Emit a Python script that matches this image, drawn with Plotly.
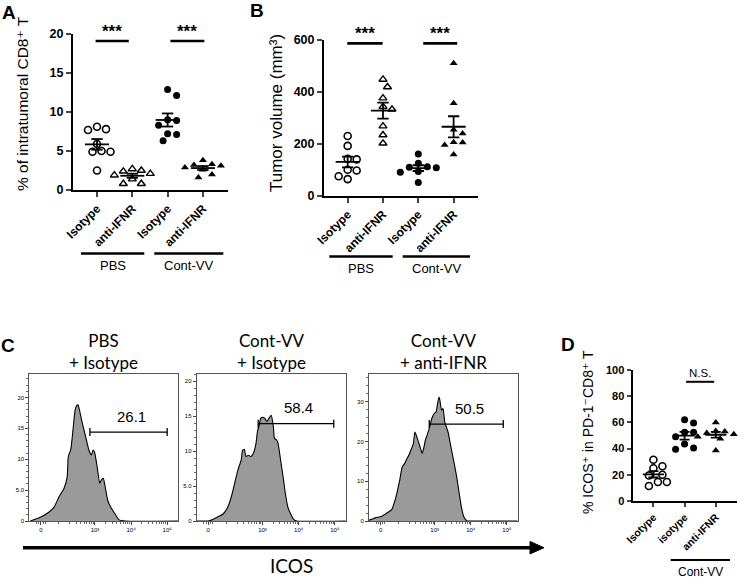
import math
import plotly.graph_objects as go

W, H = 744, 582

# ---------------- data ----------------
# Panel A: % of intratumoral CD8+ T
a_cats = ["Isotype", "anti-IFNR", "Isotype", "anti-IFNR"]
a_pbs_iso = [7.7, 7.8, 8.1, 5.9, 4.9, 5.0, 4.9, 2.5]
a_pbs_ifnr = [2.7, 2.5, 2.4, 2.1, 1.9, 1.4, 0.8, 0.8]
a_vv_iso = [12.9, 12.1, 9.0, 8.3, 8.9, 7.2, 7.1, 6.3]
a_vv_ifnr = [3.8, 3.3, 3.2, 3.1, 2.9, 2.6, 2.0, 1.6]
a_yticks = [0, 5, 10, 15, 20]

# Panel B: tumor volume (mm3)
b_cats = ["Isotype", "anti-IFNR", "Isotype", "anti-IFNR"]
b_pbs_iso = [230, 192, 142, 140, 100, 97, 75, 64]
b_pbs_ifnr = [448, 419, 376, 343, 333, 268, 234, 202]
b_vv_iso = [161, 125, 112, 110, 108, 93, 90, 51]
b_vv_ifnr = [510, 356, 254, 240, 206, 205, 195, 159]
b_yticks = [0, 200, 400, 600]

# Panel D: % ICOS+ in PD-1- CD8+ T
d_cats = ["Isotype", "isotype", "anti-IFNR"]
d_pbs_iso = [31.5, 26.5, 25, 20, 19.5, 14.5, 14.5, 11.5]
d_vv_iso = [62, 59.5, 52.5, 52.5, 49, 43.5, 40.5, 39.5]
d_vv_ifnr = [60, 53.5, 53, 52, 51, 49, 47.5, 38.5]
d_yticks = [0, 20, 40, 60, 80, 100]

# Panel C: ICOS histograms (x in display decades: 0 -> 0, 10^3 -> 1.5, 10^4 -> 2.5, 10^5 -> 3.5)
c_tickvals = [0, 1.5, 2.5, 3.5]
c_ticktext = ["0", "10³", "10⁴", "10⁵"]
c1_x = [-0.29, 0.0, 0.23, 0.37, 0.5, 0.64, 0.73, 0.76, 0.83, 0.9, 0.95, 0.99, 1.03, 1.08, 1.15,
        1.24, 1.33, 1.40, 1.45, 1.49, 1.56, 1.63, 1.67, 1.73, 1.79, 1.85, 1.93, 2.02, 2.16, 2.34, 3.8]
c1_y = [0, 0.65, 1.46, 2.28, 3.9, 5.27, 7.15, 10.4, 11.6, 15.3, 18.0, 18.65, 18.8, 17.7, 15.8,
        13.7, 11.5, 10.7, 11.5, 11.1, 8.8, 6.1, 6.6, 6.9, 5.3, 3.4, 2.3, 1.46, 0.23, 0, 0]
c2_x = [-0.36, 0.0, 0.14, 0.27, 0.41, 0.54, 0.64, 0.73, 0.82, 0.91, 0.95, 1.0, 1.04, 1.11, 1.18,
        1.25, 1.32, 1.36, 1.41, 1.45, 1.5, 1.56, 1.62, 1.68, 1.74, 1.80, 1.83, 1.89, 1.93, 2.0,
        2.07, 2.13, 2.2, 2.27, 2.36, 2.45, 3.8]
c2_y = [0, 0, 0.24, 0.6, 1.0, 2.0, 3.5, 5.4, 7.3, 8.7, 10.1, 10.2, 9.2, 9.4, 9.2,
        9.7, 11.1, 12.8, 13.7, 14.7, 14.8, 14.7, 14.2, 14.7, 15.1, 13.5, 11.8, 11.6, 11.1, 8.7,
        6.3, 4.0, 2.0, 1.1, 0.24, 0, 0]
c3_x = [-0.34, -0.22, -0.13, -0.05, 0.04, 0.13, 0.22, 0.31, 0.4, 0.44, 0.49, 0.53, 0.6, 0.67,
        0.71, 0.78, 0.84, 0.91, 0.95, 0.99, 1.05, 1.11, 1.15, 1.2, 1.24, 1.29, 1.35, 1.42, 1.49,
        1.54, 1.58, 1.62, 1.64, 1.69, 1.73, 1.78, 1.87, 1.95, 2.04, 2.11, 2.18, 2.24, 2.31, 2.4,
        2.58, 3.8]
c3_y = [0.18, 0.5, 0.85, 1.0, 1.2, 1.7, 2.27, 2.86, 5.2, 6.5, 8.6, 10.25, 13.6, 14.5,
        15.3, 16.5, 17.8, 19.5, 22.4, 21.6, 19.9, 18.2, 17.0, 18.5, 20.3, 21.6, 23.3, 25.8, 27.1,
        27.5, 29.6, 31.2, 30.6, 27.9, 28.3, 24.9, 22.4, 18.6, 14.5, 11.1, 6.9, 3.5, 1.0, 0,
        0, 0]
c_titles = ["PBS<br>+ Isotype", "Cont-VV<br>+ Isotype", "Cont-VV<br>+ anti-IFNR"]
c_gate_pct = ["26.1", "58.4", "50.5"]
c_gate_start = [1.36, 1.38, 1.35]
c_gate_end = [3.5, 3.47, 3.4]
c_gate_level = [14.4, 13.9, 24.4]
c_ymax = [23.8, 21.0, 37.0]
c_yticks = [[0, 5, 10, 15, 20], [0, 5, 10, 15, 20], [0, 10, 20, 30]]
c_yticktext = [["0", "5.0", "10", "15", "20"], ["0", "5.0", "10", "15", "20"], ["0", "10", "20", "30"]]

# ---------------- layout geometry (pixels) ----------------
FONT = "Arial, Liberation Sans, DejaVu Sans, sans-serif"
CFONT = "Lato, Open Sans, sans-serif"

panels = {
    # name: (axis suffix, x0, x1, y_top, y_bottom, xrange, yrange)
    "A": ("", 73, 228, 34, 190, [-0.68, 3.71], [0, 20]),
    "B": ("2", 324, 478, 40, 195.7, [-0.67, 3.69], [0, 600]),
    "D": ("3", 632.5, 737, 370, 501, [-0.67, 2.68], [0, 100]),
    "C1": ("4", 29.3, 178, 374, 521, [-0.32, 3.8], [0, c_ymax[0]]),
    "C2": ("5", 196.7, 345.7, 374, 521, [-0.32, 3.8], [0, c_ymax[1]]),
    "C3": ("6", 369, 517.7, 374, 521, [-0.32, 3.8], [0, c_ymax[2]]),
}


def to_px(p, xv, yv):
    s, x0, x1, yt, yb, xr, yr = panels[p]
    px = x0 + (xv - xr[0]) / (xr[1] - xr[0]) * (x1 - x0)
    py = yb - (yv - yr[0]) / (yr[1] - yr[0]) * (yb - yt)
    return px, py


def paper(px, py):
    return px / W, 1 - py / H


def scales(p):
    s, x0, x1, yt, yb, xr, yr = panels[p]
    return (x1 - x0) / (xr[1] - xr[0]), (yb - yt) / (yr[1] - yr[0])


def swarm(vals, ppu, ppc, d=9.0):
    placed = []
    offs = [0.0] * len(vals)
    cands = [0.0]
    for k in range(1, 10):
        cands += [k * d / 2, -k * d / 2]
    order = sorted(range(len(vals)), key=lambda i: -vals[i])
    for i in order:
        y = vals[i] * ppu
        for c in cands:
            if all((c - a) ** 2 + (y - b) ** 2 >= (d * 0.9) ** 2 for a, b in placed):
                offs[i] = c
                placed.append((c, y))
                break
    return [o / ppc for o in offs]


fig = go.Figure()

OPEN_C = dict(symbol="circle-open", size=7, color="black", line=dict(width=1.6, color="black"))
FILL_C = dict(symbol="circle", size=7, color="black")
OPEN_T = dict(symbol="triangle-up-open", size=7, color="black", line=dict(width=1.4, color="black"))
FILL_T = dict(symbol="triangle-up", size=7, color="black")


def add_group(p, idx, vals, marker):
    s = panels[p][0]
    ppc, ppu = scales(p)
    offs = swarm(vals, ppu, ppc)
    fig.add_trace(go.Scatter(x=[idx + o for o in offs], y=vals, mode="markers", marker=marker,
                             xaxis="x" + s, yaxis="y" + s, showlegend=False, cliponaxis=False,
                             hoverinfo="skip"))
    n = len(vals)
    m = sum(vals) / n
    sd = math.sqrt(sum((v - m) ** 2 for v in vals) / (n - 1))
    se = sd / math.sqrt(n)
    hw, cw = 0.34, 0.16
    xs = [idx - hw, idx + hw, None, idx - cw, idx + cw, None, idx - cw, idx + cw, None, idx, idx]
    ys = [m, m, None, m + se, m + se, None, m - se, m - se, None, m - se, m + se]
    fig.add_trace(go.Scatter(x=xs, y=ys, mode="lines", line=dict(color="black", width=1.8),
                             xaxis="x" + s, yaxis="y" + s, showlegend=False, cliponaxis=False,
                             hoverinfo="skip"))


for i, (v, mk) in enumerate([(a_pbs_iso, OPEN_C), (a_pbs_ifnr, OPEN_T), (a_vv_iso, FILL_C), (a_vv_ifnr, FILL_T)]):
    add_group("A", i, v, mk)
for i, (v, mk) in enumerate([(b_pbs_iso, OPEN_C), (b_pbs_ifnr, OPEN_T), (b_vv_iso, FILL_C), (b_vv_ifnr, FILL_T)]):
    add_group("B", i, v, mk)
for i, (v, mk) in enumerate([(d_pbs_iso, OPEN_C), (d_vv_iso, FILL_C), (d_vv_ifnr, FILL_T)]):
    add_group("D", i, v, mk)

# histograms
hist_x = [c1_x, c2_x, c3_x]
hist_y = [c1_y, c2_y, c3_y]
for k, p in enumerate(["C1", "C2", "C3"]):
    s = panels[p][0]
    fig.add_trace(go.Scatter(x=hist_x[k], y=hist_y[k], mode="lines", fill="tozeroy",
                             fillcolor="#9a9a9a", line=dict(color="black", width=1.1, shape="spline", smoothing=0.5),
                             xaxis="x" + s, yaxis="y" + s, showlegend=False, hoverinfo="skip"))

layout = dict(width=W, height=H, margin=dict(l=0, r=0, t=0, b=0, pad=0, autoexpand=False), autosize=False,
              plot_bgcolor="white", paper_bgcolor="white", showlegend=False,
              font=dict(family=FONT, color="black"))

shapes = []
annotations = []

# scatter panel axes
for p, cats, ticks in [("A", a_cats, a_yticks), ("B", b_cats, b_yticks), ("D", d_cats, d_yticks)]:
    s, x0, x1, yt, yb, xr, yr = panels[p]
    small = p == "D"
    layout["xaxis" + s] = dict(domain=[x0 / W, x1 / W], range=xr, anchor="y" + s, automargin=False,
                               tickvals=list(range(len(cats))), ticktext=cats, tickangle=-45,
                               ticks="outside", ticklen=5 if not small else 4, tickwidth=2, showline=True,
                               linewidth=2, linecolor="black", showgrid=False, zeroline=False,
                               tickfont=dict(size=12 if not small else 10.5, weight="bold", family=FONT))
    layout["yaxis" + s] = dict(domain=[1 - yb / H, 1 - yt / H], range=yr, anchor="x" + s, automargin=False,
                               tickvals=ticks, ticks="outside", ticklen=5 if not small else 4, tickwidth=2,
                               showline=True, linewidth=2, linecolor="black", showgrid=False,
                               zeroline=False, tickfont=dict(size=12.5 if not small else 11, weight="bold", family=FONT))

# histogram axes
minor_x = [-0.12, -0.06, 0.0, 0.06, 0.12]
for e in (2, 3, 4):
    for kk in range(1, 10):
        minor_x.append(math.log10(kk * 10 ** e) - 1.5)
for k, p in enumerate(["C1", "C2", "C3"]):
    s, x0, x1, yt, yb, xr, yr = panels[p]
    layout["xaxis" + s] = dict(domain=[x0 / W, x1 / W], range=xr, anchor="y" + s, automargin=False,
                               tickvals=c_tickvals, ticktext=c_ticktext, ticks="outside", ticklen=3,
                               tickwidth=1, showline=True, mirror=True, linewidth=1, linecolor="#555",
                               showgrid=False, zeroline=False, tickfont=dict(size=6, family=FONT),
                               minor=dict(tickvals=minor_x, ticks="outside", ticklen=2, tickwidth=0.8,
                                          tickcolor="#444", showgrid=False))
    layout["yaxis" + s] = dict(domain=[1 - yb / H, 1 - yt / H], range=yr, anchor="x" + s, automargin=False,
                               tickvals=c_yticks[k], ticktext=c_yticktext[k], ticks="outside", ticklen=3,
                               tickwidth=1, showline=True, mirror=True, linewidth=1, linecolor="#555",
                               showgrid=False, zeroline=False, tickfont=dict(size=6, family=FONT),
                               minor=dict(dtick=1 if k < 2 else 2, ticks="outside", ticklen=2, tickwidth=0.8,
                                          tickcolor="#444", showgrid=False))
    # gate bracket
    gx0, gy = to_px(p, c_gate_start[k], c_gate_level[k])
    gx1, _ = to_px(p, c_gate_end[k], c_gate_level[k])
    for (ax0, ay0, ax1, ay1) in [(gx0, gy, gx1, gy), (gx0, gy - 4, gx0, gy + 4), (gx1, gy - 4, gx1, gy + 4)]:
        shapes.append(dict(type="line", xref="paper", yref="paper", x0=ax0 / W, x1=ax1 / W,
                           y0=1 - ay0 / H, y1=1 - ay1 / H, line=dict(color="black", width=1.3)))
    lx, ly = paper((gx0 + gx1) / 2 + 3, gy - 16)
    annotations.append(dict(text=c_gate_pct[k], x=lx, y=ly, xref="paper", yref="paper", showarrow=False,
                            font=dict(size=15, family=FONT), xanchor="center", yanchor="middle"))
    tx, ty = paper((x0 + x1) / 2 + 0, 351)
    annotations.append(dict(text=c_titles[k], x=tx, y=ty, xref="paper", yref="paper", showarrow=False,
                            font=dict(size=17, family=CFONT), xanchor="center", yanchor="middle",
                            align="center"))

# significance bars & labels
def sig(p, xa, xb, yval, text, size, bold=True, gap=1):
    pxa, py = to_px(p, xa, yval)
    pxb, _ = to_px(p, xb, yval)
    shapes.append(dict(type="line", xref="paper", yref="paper", x0=pxa / W, x1=pxb / W,
                       y0=1 - py / H, y1=1 - py / H, line=dict(color="black", width=2.6 if bold else 2)))
    tx, ty = paper((pxa + pxb) / 2, py - gap)
    annotations.append(dict(text=text, x=tx, y=ty, xref="paper", yref="paper", showarrow=False,
                            font=dict(size=size, family=FONT, weight="bold" if bold else "normal"),
                            xanchor="center", yanchor="bottom"))


sig("A", -0.04, 0.90, 19.1, "***", 17, gap=-2)
sig("A", 2.08, 3.04, 19.1, "***", 17, gap=-2)
sig("B", -0.01, 0.99, 587, "***", 17, gap=-2)
sig("B", 2.14, 3.10, 587, "***", 17, gap=-2)
sig("D", 1.05, 1.95, 91, "N.S.", 11.5, bold=False, gap=1)

# group underlines
def group_line(xa_px, xb_px, y_px, label, ly_px, size=13, width=2.6):
    shapes.append(dict(type="line", xref="paper", yref="paper", x0=xa_px / W, x1=xb_px / W,
                       y0=1 - y_px / H, y1=1 - y_px / H, line=dict(color="black", width=width)))
    tx, ty = paper((xa_px + xb_px) / 2, ly_px)
    annotations.append(dict(text=label, x=tx, y=ty, xref="paper", yref="paper", showarrow=False,
                            font=dict(size=size, family=FONT), xanchor="center", yanchor="middle"))


group_line(81, 144.3, 253.5, "PBS", 266)
group_line(154.3, 223.3, 253.5, "Cont-VV", 266)
group_line(329.3, 392.7, 256.5, "PBS", 268.5)
group_line(402.7, 470, 256.5, "Cont-VV", 268.5)
group_line(670.7, 730, 560, "Cont-VV", 572, size=12, width=2)

# y-axis titles
for text, xpx, ypx, size in [("% of intratumoral CD8⁺ T", 22, 104, 15.5),
                             ("Tumor volume (mm³)", 277, 113, 17),
                             ("% ICOS⁺ in PD-1⁻CD8⁺ T", 588, 432, 14)]:
    tx, ty = paper(xpx, ypx)
    annotations.append(dict(text=text, x=tx, y=ty, xref="paper", yref="paper", showarrow=False,
                            textangle=-90, font=dict(size=size, family=FONT),
                            xanchor="center", yanchor="middle"))

# panel letters
for L, xpx, ypx in [("A", 8.5, 12), ("B", 257, 10.5), ("C", 7.5, 345), ("D", 567.5, 344)]:
    tx, ty = paper(xpx, ypx)
    annotations.append(dict(text=L, x=tx, y=ty, xref="paper", yref="paper", showarrow=False,
                            font=dict(size=19, family=FONT, weight="bold"), xanchor="center", yanchor="middle"))

# ICOS arrow (line + head)
shapes.append(dict(type="line", xref="paper", yref="paper", x0=23 / W, x1=533 / W,
                   y0=1 - 547.7 / H, y1=1 - 547.7 / H, line=dict(color="black", width=3.4)))
shapes.append(dict(type="path", xref="paper", yref="paper",
                   path="M %f,%f L %f,%f L %f,%f Z" % (530 / W, 1 - 541.5 / H, 544 / W, 1 - 547.7 / H,
                                                      530 / W, 1 - 553.9 / H),
                   fillcolor="black", line=dict(color="black", width=1)))
tx, ty = paper(291, 565)
annotations.append(dict(text="ICOS", x=tx, y=ty, xref="paper", yref="paper", showarrow=False,
                        font=dict(size=19, family=CFONT), xanchor="center", yanchor="middle"))

layout["shapes"] = shapes
layout["annotations"] = annotations
layout["hovermode"] = False
fig.update_layout(**layout)
fig.write_html("out.html", config={"displayModeBar": False, "staticPlot": True},
               post_script="document.body.style.margin='0';document.body.style.overflow='hidden';")
